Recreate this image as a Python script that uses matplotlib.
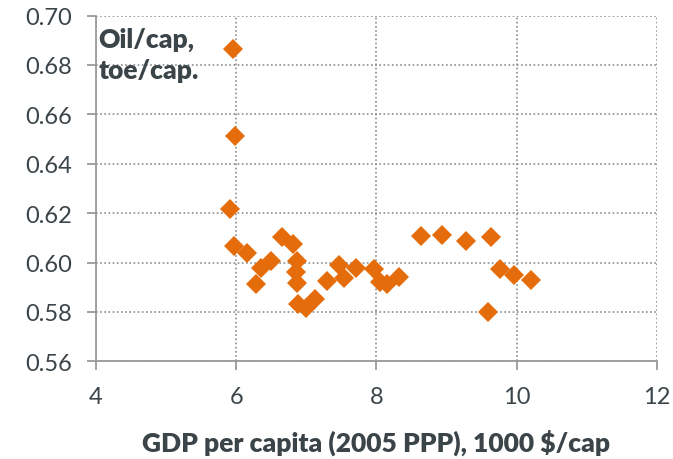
import matplotlib.pyplot as plt
from matplotlib.ticker import MultipleLocator, FormatStrFormatter

plt.rcParams['font.family'] = ['Lato', 'DejaVu Sans']

# GDP per capita (1000 $/cap, 2005 PPP) and oil use per capita (toe/cap)
gdp = [5.95, 5.99, 5.91, 5.97, 6.15, 6.28, 6.36, 6.50, 6.66, 6.81,
       6.87, 6.86, 6.87, 6.88, 7.00, 7.12, 7.29, 7.47, 7.54, 7.71,
       7.97, 8.05, 8.15, 8.33, 8.64, 8.93, 9.28, 9.64, 9.77, 9.96,
       10.21, 9.59]
oil = [0.6866, 0.6512, 0.6216, 0.6065, 0.6038, 0.5914, 0.5978, 0.6005, 0.6105, 0.6074,
       0.6006, 0.5962, 0.5915, 0.5834, 0.5815, 0.5851, 0.5924, 0.5989, 0.5937, 0.5976,
       0.5972, 0.5922, 0.5911, 0.5943, 0.6109, 0.6112, 0.6086, 0.6105, 0.5973, 0.5950,
       0.5928, 0.5798]

text_col = '#3B4449'
grid_col = '#8C8C8C'

fig = plt.figure(figsize=(6.73, 4.6), dpi=100)
ax = fig.add_axes([0.1426, 0.2124, 0.8332, 0.7517])

ax.plot(gdp, oil, linestyle='none', marker='D', markersize=10,
        color='#E46C0A', markeredgewidth=0)

ax.set_xlim(4, 12)
ax.set_ylim(0.56, 0.70)
ax.xaxis.set_major_locator(MultipleLocator(2))
ax.yaxis.set_major_locator(MultipleLocator(0.02))
ax.yaxis.set_major_formatter(FormatStrFormatter('%.2f'))

ax.grid(True, linestyle=(0, (1, 1.5)), color=grid_col, linewidth=1.2)
ax.set_axisbelow(True)
for side in ['top', 'right']:
    ax.spines[side].set_visible(False)
for side in ['left', 'bottom']:
    ax.spines[side].set_color('#9A9A9A')
    ax.spines[side].set_linewidth(1.3)

ax.tick_params(axis='both', direction='out', length=6.5, width=1.3,
               color='#9A9A9A', labelsize=17, labelcolor=text_col, pad=11)

ax.set_xlabel('GDP per capita (2005 PPP), 1000 $/cap', fontsize=19,
              fontweight='heavy', color=text_col, labelpad=16)

ax.text(0.004, 0.967, 'Oil/cap,\ntoe/cap.', transform=ax.transAxes,
        fontsize=19, fontweight='heavy', color=text_col, va='top', ha='left',
        linespacing=1.32)

fig.savefig('out.png', dpi=100)
